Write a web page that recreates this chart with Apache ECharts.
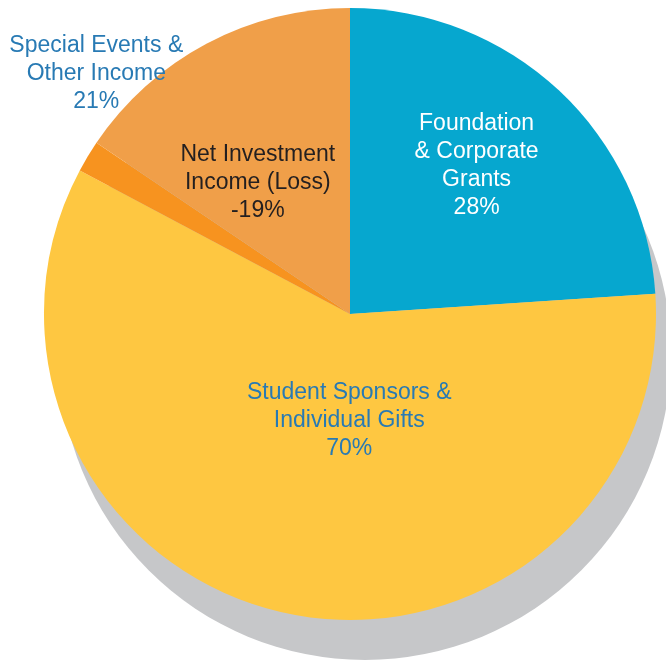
<!DOCTYPE html>
<html>
<head>
<meta charset="utf-8">
<script src="https://cdn.jsdelivr.net/npm/echarts@6/dist/echarts.min.js"></script>
<style>
  html, body { margin: 0; padding: 0; background: #fff; }
  #chart { width: 666px; height: 662px; }
</style>
</head>
<body>
<div id="chart"></div>
<script>
// slice names (as printed), drawn sizes, printed percentages
const categories = [
  'Foundation\n& Corporate\nGrants',
  'Student Sponsors &\nIndividual Gifts',
  'Special Events &\nOther Income',
  'Net Investment\nIncome (Loss)',
];
const sliceValues = [28.5, 70, 2, 18.5];
const shownPercent = ['28%', '70%', '21%', '-19%'];

const sliceColors = ['#06A7CF', '#FEC741', '#F7931F', '#F09F49'];
const textColors = ['#ffffff', '#287AB4', '#287AB4', '#231F20'];
// label nudges from the default inside spot
const labelShift = [[20, -34], [32, -46], [-120, -160], [-19, 6]];

const chart = echarts.init(document.getElementById('chart'));

const pieData = categories.map((name, i) => ({
  name,
  value: sliceValues[i],
  itemStyle: { color: sliceColors[i] },
  label: { color: textColors[i] },
}));

chart.setOption({
  animation: false,
  series: [
    {
      // grey drop shadow behind the pie
      type: 'pie',
      silent: true,
      z: 1,
      center: [365, 354],
      radius: 306,
      label: { show: false },
      labelLine: { show: false },
      itemStyle: { color: '#C6C7C9' },
      data: [{ name: 'shadow', value: 1 }],
    },
    {
      type: 'pie',
      z: 2,
      center: [350, 314],
      radius: 306,
      startAngle: 90,
      clockwise: true,
      avoidLabelOverlap: false,
      itemStyle: { borderWidth: 0 },
      label: {
        show: true,
        position: 'inside',
        rotate: 0,
        fontFamily: 'Liberation Sans, Arial, sans-serif',
        fontSize: 23,
        lineHeight: 28,
        align: 'center',
        formatter: (p) => p.name + '\n' + shownPercent[p.dataIndex],
      },
      labelLine: { show: false },
      labelLayout: (params) => {
        const s = labelShift[params.dataIndex];
        return { dx: s[0], dy: s[1] };
      },
      data: pieData,
    },
  ],
});
</script>
</body>
</html>
